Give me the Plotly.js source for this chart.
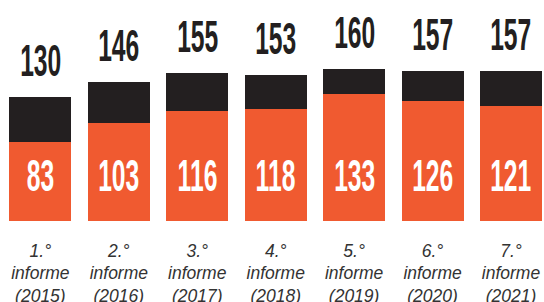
<!DOCTYPE html>
<html>
<head>
<meta charset="utf-8">
<script src="https://cdn.plot.ly/plotly-3.0.1.min.js"></script>
<style>
html,body{margin:0;padding:0;background:#fff;}
#chart{width:544px;height:302px;}
#chart text.annotation-text{transform-box:fill-box;transform-origin:center;transform:scaleX(0.56);}
</style>
</head>
<body>
<div id="chart"></div>
<script>
const categories = ["1.°<br>informe<br>(2015)","2.°<br>informe<br>(2016)","3.°<br>informe<br>(2017)","4.°<br>informe<br>(2018)","5.°<br>informe<br>(2019)","6.°<br>informe<br>(2020)","7.°<br>informe<br>(2021)"];
const orangeValues = [83, 103, 116, 118, 133, 126, 121];
const totalValues = [130, 146, 155, 153, 160, 157, 157];
const blackValues = totalValues.map((t, i) => t - orangeValues[i]);

const xs = categories.map((c, i) => i);
const ORANGE = "#F05A30";
const DARK = "#231F20";
const labelFont = "'Liberation Sans', Arial, sans-serif";

const traces = [
  {type: "bar", x: xs, y: orangeValues, marker: {color: ORANGE}, width: 0.79, hoverinfo: "none"},
  {type: "bar", x: xs, y: blackValues, marker: {color: DARK}, width: 0.79, hoverinfo: "none"}
];

const annotations = [];
xs.forEach((x, i) => {
  annotations.push({
    x: x, y: totalValues[i], xref: "x", yref: "y", yanchor: "bottom", yshift: 10,
    text: String(totalValues[i]), showarrow: false,
    font: {family: labelFont, size: 44, weight: 700, color: DARK}
  });
  annotations.push({
    x: x, y: 48, xref: "x", yref: "y", yanchor: "middle",
    text: String(orangeValues[i]), showarrow: false,
    font: {family: labelFont, size: 44, weight: 700, color: "#ffffff"}
  });
});

const layout = {
  width: 544, height: 302,
  margin: {l: 0, r: 0, t: 0, b: 81},
  barmode: "stack",
  showlegend: false,
  paper_bgcolor: "#ffffff", plot_bgcolor: "#ffffff",
  xaxis: {
    range: [-0.515, 6.421], tickvals: xs, ticktext: categories,
    showgrid: false, zeroline: false, showline: false, ticks: "",
    ticklabelstandoff: 17,
    tickfont: {family: "'Liberation Sans', Arial, sans-serif", size: 17.5, style: "italic", color: "#333333"},
    fixedrange: true
  },
  yaxis: {range: [0, 232], visible: false, fixedrange: true},
  annotations: annotations
};

Plotly.newPlot("chart", traces, layout, {displayModeBar: false, staticPlot: true});
</script>
</body>
</html>
